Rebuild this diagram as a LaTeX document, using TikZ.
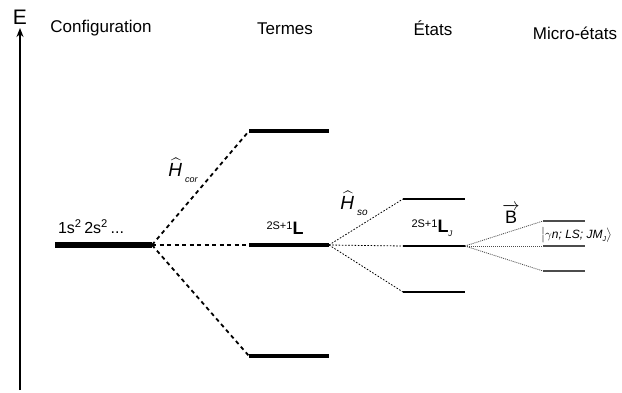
\documentclass[tikz,border=0pt]{standalone}
\usepackage{amsmath}
\usepackage{fontspec}
\setmainfont{Liberation Sans}
\usetikzlibrary{arrows.meta}

\begin{document}
\begin{tikzpicture}[
    x=1pt, y=-1pt,
    axisline/.style={black, line width=1.6pt, -{Stealth[length=9pt, width=7pt]}},
    confline/.style={black, line width=6pt},
    termline/.style={black, line width=4pt},
    stateline/.style={black, line width=2pt},
    microline/.style={black!70, line width=1.5pt},
    corlink/.style={black, line width=1.8pt, dash pattern=on 4pt off 3.5pt},
    solink/.style={black, line width=0.8pt, dash pattern=on 1.6pt off 1.6pt},
    blink/.style={black!70, line width=0.8pt, dash pattern=on 1pt off 1pt},
    hdr/.style={font=\fontsize{17}{20}\selectfont, inner sep=0pt},
    lbl/.style={font=\fontsize{16}{18}\selectfont, inner sep=0pt}
]
\useasboundingbox (0,0) rectangle (622,392);

% ---------- energy axis ----------
\coordinate (ebot) at (20,390);
\coordinate (etop) at (20,28);
\draw[axisline] (ebot) -- (etop);
\node[hdr, font=\fontsize{21}{22}\selectfont] (elab) at (20,17) {E};

% ---------- headers ----------
\node[hdr] (hconf)  at (101,28) {Configuration};
\node[hdr] (hterm)  at (285,29) {Termes};
\node[hdr] (hstate) at (433,28) {États};
\node[hdr] (hmicro) at (575,33) {Micro-états};

% ---------- levels ----------
\coordinate (cl) at (55,245);
\coordinate (cr) at (152,245);
\draw[confline] (cl) -- (cr);
\foreach \n/\y in {t1/131, t2/245, t3/356} {
  \coordinate (\n l) at (249,\y);
  \coordinate (\n r) at (329,\y);
  \draw[termline] (\n l) -- (\n r);
}
\foreach \n/\y in {s1/199, s2/246, s3/292} {
  \coordinate (\n l) at (403,\y);
  \coordinate (\n r) at (465,\y);
  \draw[stateline] (\n l) -- (\n r);
}
\foreach \n/\y in {m1/221, m2/246, m3/271} {
  \coordinate (\n l) at (543,\y);
  \coordinate (\n r) at (585,\y);
  \draw[microline] (\n l) -- (\n r);
}

% ---------- splittings ----------
\foreach \n in {t1,t2,t3}
  \draw[corlink] (cr) -- (\n l);
\foreach \n in {s1,s2,s3}
  \draw[solink] (t2r) -- (\n l);
\foreach \n in {m1,m2,m3}
  \draw[blink] (s2r) -- (\n l);

% ---------- labels ----------
\node[lbl] (conf) at (91,227) {1s\textsuperscript{2}\,2s\textsuperscript{2}\,...};
\node[lbl, font=\fontsize{19}{20}\selectfont] (hcor) at (183,170)
      {$\widehat{\textit{H}\,}$\raisebox{-6pt}{\fontsize{9}{10}\selectfont\itshape cor}};
\node[lbl] (term) at (285,228)
      {\raisebox{5pt}{\fontsize{11}{12}\selectfont 2S+1}{\fontsize{18}{20}\selectfont\textbf{L}}};
\node[lbl, font=\fontsize{19}{20}\selectfont] (hso) at (354,203)
      {$\widehat{\textit{H}\,}$\raisebox{-6pt}{\fontsize{10}{11}\selectfont\itshape so}};
\node[lbl] (state) at (432,228)
      {\raisebox{5pt}{\fontsize{11}{12}\selectfont 2S+1}{\fontsize{18}{20}\selectfont\textbf{L}}\raisebox{-4pt}{\fontsize{8}{9}\selectfont\itshape J}};
\node[lbl, font=\fontsize{18}{20}\selectfont] (bfield) at (511,214)
      {$\overrightarrow{\text{B}}$};
\node[lbl, font=\fontsize{12}{14}\selectfont, anchor=west] (ket) at (541,235)
      {$\big|\gamma$\textit{n; LS; JM}\raisebox{-3pt}{\fontsize{7}{8}\selectfont\itshape J}$\big\rangle$};

\end{tikzpicture}
\end{document}
